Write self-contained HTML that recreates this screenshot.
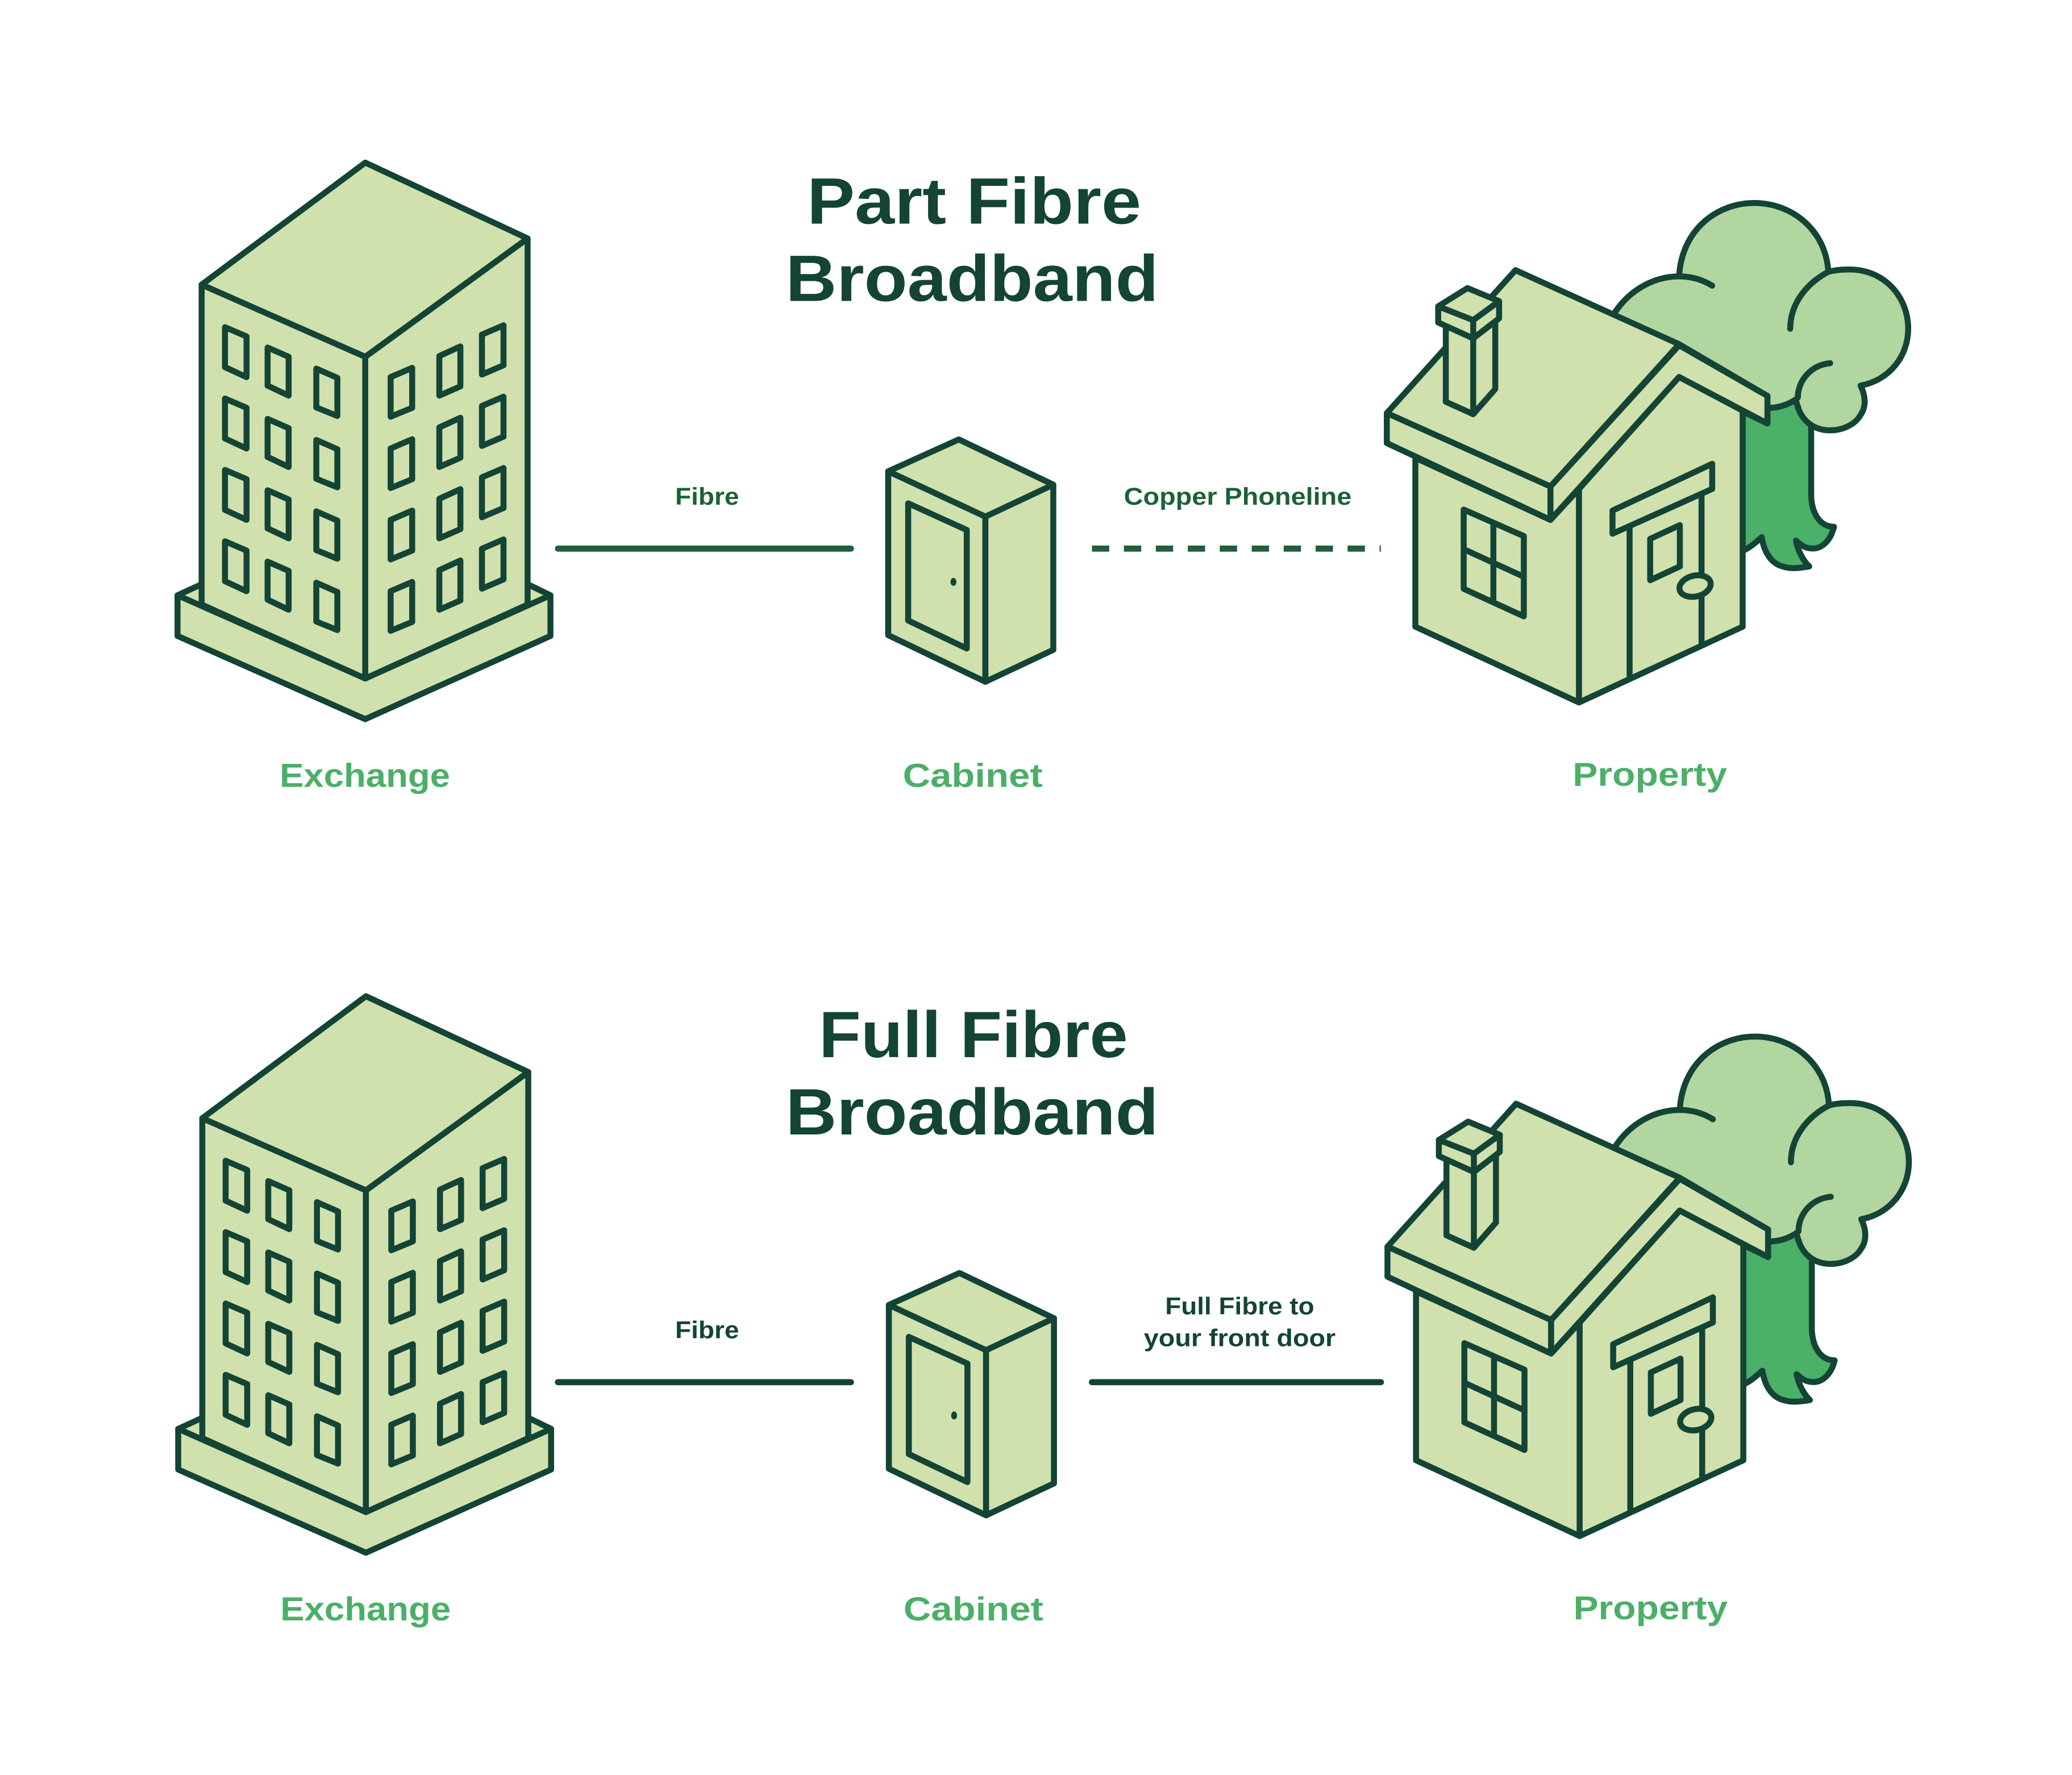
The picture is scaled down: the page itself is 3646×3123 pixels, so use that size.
<!DOCTYPE html>
<html><head><meta charset="utf-8"><style>html,body{margin:0;padding:0;background:#fff}svg{display:block}</style></head>
<body>
<svg width="3646" height="3123" viewBox="0 0 1556 1333" preserveAspectRatio="none" xmlns="http://www.w3.org/2000/svg">
<defs>
<g id="bld">
 <g transform="translate(123.8,115.2) scale(0.1905,0.2777)" stroke="#134436" stroke-width="10.5" vector-effect="non-scaling-stroke" stroke-linejoin="round" stroke-linecap="round" fill="#d0e1ad">
  <polygon vector-effect="non-scaling-stroke" points="50,1195 145,1165 1430,1165 1520,1195 1520,1305 790,1530 50,1305"/>
  <polyline vector-effect="non-scaling-stroke" fill="none" points="50,1195 790,1420 1520,1195"/>
  <polygon vector-effect="non-scaling-stroke" points="145,355 790,550 790,1420 145,1220"/>
  <polygon vector-effect="non-scaling-stroke" points="790,550 1430,230 1430,1220 790,1420"/>
  <polygon vector-effect="non-scaling-stroke" points="145,355 790,25 1430,230 790,550"/>
  <g id="wl">
   <polygon vector-effect="non-scaling-stroke" points="237,470 322,495 322,605 237,578"/>
   <polygon vector-effect="non-scaling-stroke" points="405,525 488,550 488,655 405,628"/>
   <polygon vector-effect="non-scaling-stroke" points="597,582 680,607 680,710 597,687"/>
   <polygon vector-effect="non-scaling-stroke" points="890,605 975,580 975,688 890,712"/>
   <polygon vector-effect="non-scaling-stroke" points="1082,548 1165,522 1165,630 1082,655"/>
   <polygon vector-effect="non-scaling-stroke" points="1250,490 1335,465 1335,573 1250,598"/>
  </g>
  <use href="#wl" transform="translate(0,193)"/>
  <use href="#wl" transform="translate(0,386)"/>
  <use href="#wl" transform="translate(0,579)"/>
 </g>
</g>
<g id="cab" stroke="#134436" stroke-width="4.5" stroke-linejoin="round" fill="#d0e1ad">
 <polygon points="667,354 720,330 791,364 740,388"/>
 <polygon points="667,354 740,388 740,512 667,477"/>
 <polygon points="740,388 791,364 791,488 740,512"/>
 <polygon points="682,378 726,398 726,487 682,466"/>
 <ellipse cx="716" cy="437" rx="2.2" ry="3" fill="#134436" stroke="none"/>
</g>
<g id="house">
 <g transform="translate(1024.3,140.8) scale(0.2858,0.2587)" stroke="#134436" stroke-width="10.5" stroke-linejoin="round" stroke-linecap="round" fill="#d0e1ad">
  <path vector-effect="non-scaling-stroke" fill="#b2d6a0" d="M655,370 C700,290 770,258 828,258 C835,120 930,45 1025,45 C1130,45 1215,130 1220,245 C1235,240 1255,238 1275,238 C1370,238 1430,320 1430,410 C1430,490 1380,560 1305,575 C1320,610 1318,640 1305,660 C1290,690 1255,705 1225,705 C1185,705 1150,680 1140,635 C1110,640 1085,645 1060,640 L1060,605 L828,455 Z"/>
  <path vector-effect="non-scaling-stroke" fill="none" d="M828,258 C860,258 890,268 915,285 M1220,245 C1160,280 1120,340 1120,410 M1225,510 C1175,515 1140,560 1140,610"/>
  <path vector-effect="non-scaling-stroke" fill="#4bb068" d="M995,650 L1060,685 L1060,640 C1090,640 1115,630 1135,615 C1140,650 1155,675 1175,690 L1175,890 C1175,940 1195,985 1235,985 C1225,1030 1200,1048 1180,1048 C1160,1048 1150,1040 1135,1025 C1140,1055 1155,1085 1170,1100 C1145,1105 1120,1108 1100,1100 C1065,1090 1050,1050 1045,1015 C1030,1030 1015,1045 995,1055 Z"/>
  <polygon vector-effect="non-scaling-stroke" points="135,785 490,965 565,875 565,1495 135,1275"/>
  <polygon vector-effect="non-scaling-stroke" points="565,875 828,550 995,648 995,1275 565,1495"/>
  <polygon vector-effect="non-scaling-stroke" points="60,655 398,240 828,455 490,868"/>
  <polygon vector-effect="non-scaling-stroke" points="60,655 490,868 490,965 60,742"/>
  <polygon vector-effect="non-scaling-stroke" points="490,868 828,458 1060,605 1060,685 828,550 490,965"/>
  <polygon vector-effect="non-scaling-stroke" points="262,935 420,1012 420,1245 262,1165"/>
  <line vector-effect="non-scaling-stroke" x1="340" y1="975" x2="340" y2="1195"/>
  <line vector-effect="non-scaling-stroke" x1="262" y1="1050" x2="420" y2="1130"/>
  <line vector-effect="non-scaling-stroke" x1="698" y1="988" x2="698" y2="1420"/>
  <line vector-effect="non-scaling-stroke" x1="887" y1="890" x2="887" y2="1330"/>
  <polygon vector-effect="non-scaling-stroke" points="653,938 915,802 915,875 653,1005"/>
  <polygon vector-effect="non-scaling-stroke" points="752,1020 830,980 830,1100 752,1140"/>
  <ellipse vector-effect="non-scaling-stroke" cx="870" cy="1157" rx="42" ry="30" transform="rotate(-18 870 1157)"/>
  <polygon vector-effect="non-scaling-stroke" points="215,400 287,438 345,385 345,585 287,658 215,622"/>
  <line vector-effect="non-scaling-stroke" x1="287" y1="438" x2="287" y2="658"/>
  <polygon vector-effect="non-scaling-stroke" points="195,345 287,385 355,330 355,380 287,438 195,392"/>
  <polygon vector-effect="non-scaling-stroke" points="195,345 272,292 355,330 287,385"/>
  <line vector-effect="non-scaling-stroke" x1="287" y1="385" x2="287" y2="438"/>
 </g>
</g>
</defs>

<use href="#bld"/><use href="#cab"/><use href="#house"/>
<g transform="translate(0.5,626)"><use href="#bld"/><use href="#cab"/><use href="#house"/></g>

<g stroke="#134436" stroke-width="4.6" stroke-linecap="round">
 <line x1="419" y1="412" x2="639" y2="412" stroke="#1c6137"/>
 <line x1="820" y1="412" x2="1037" y2="412" stroke="#1c6137" stroke-dasharray="13,11" stroke-linecap="butt"/>
 <line x1="419" y1="1038" x2="639" y2="1038"/>
 <line x1="820" y1="1038" x2="1037" y2="1038"/>
</g>

<g font-family="Liberation Sans, sans-serif" font-weight="bold" text-anchor="middle">
 <g fill="#134436" font-size="49">
  <text x="731.5" y="168" textLength="251" lengthAdjust="spacingAndGlyphs">Part Fibre</text>
  <text x="730" y="226" textLength="280" lengthAdjust="spacingAndGlyphs">Broadband</text>
  <text x="731" y="794" textLength="232" lengthAdjust="spacingAndGlyphs">Full Fibre</text>
  <text x="730" y="852" textLength="280" lengthAdjust="spacingAndGlyphs">Broadband</text>
 </g>
 <g fill="#1c6137" font-size="18">
  <text x="531" y="379" textLength="48" lengthAdjust="spacingAndGlyphs">Fibre</text>
  <text x="929.5" y="379" textLength="171" lengthAdjust="spacingAndGlyphs">Copper Phoneline</text>
 </g>
 <g fill="#134436" font-size="18">
  <text x="531" y="1005" textLength="48" lengthAdjust="spacingAndGlyphs">Fibre</text>
  <text x="931" y="987" textLength="112" lengthAdjust="spacingAndGlyphs">Full Fibre to</text>
  <text x="931" y="1011" textLength="144" lengthAdjust="spacingAndGlyphs">your front door</text>
 </g>
 <g fill="#4caf68" font-size="25">
  <text x="274" y="591" textLength="128" lengthAdjust="spacingAndGlyphs">Exchange</text>
  <text x="730.5" y="591" textLength="105" lengthAdjust="spacingAndGlyphs">Cabinet</text>
  <text x="1239" y="590" textLength="116" lengthAdjust="spacingAndGlyphs">Property</text>
  <text x="274.5" y="1217" textLength="128" lengthAdjust="spacingAndGlyphs">Exchange</text>
  <text x="731" y="1217" textLength="105" lengthAdjust="spacingAndGlyphs">Cabinet</text>
  <text x="1239.5" y="1216" textLength="116" lengthAdjust="spacingAndGlyphs">Property</text>
 </g>
</g>
</svg>
</body></html>
